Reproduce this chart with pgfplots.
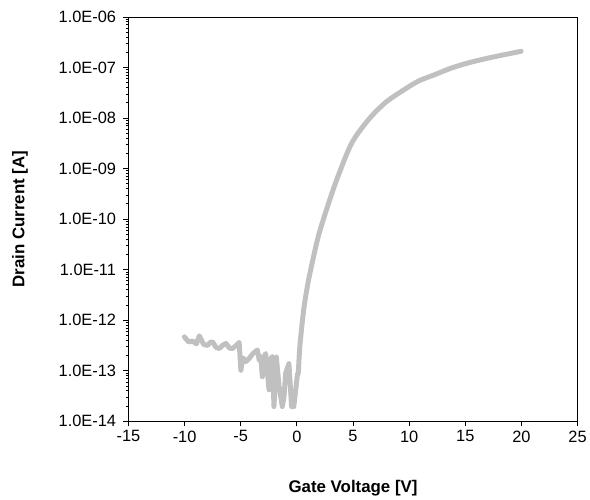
\documentclass[border=0pt]{standalone}
\usepackage{pgfplots}
\pgfplotsset{compat=1.18}
\usepackage{fontspec}
\setmainfont{Liberation Sans}
\definecolor{curvegray}{RGB}{192,192,192}
\begin{document}
\begin{tikzpicture}
\begin{axis}[
  scale only axis,
  width=451bp, height=406bp,
  ymode=log,
  xmin=-15, xmax=25,
  ymin=1e-14, ymax=1e-6,
  xtick={-15,-10,...,25},
  ytick={1e-14,1e-13,1e-12,1e-11,1e-10,1e-9,1e-8,1e-7,1e-6},
  yticklabels={1.0E-14,1.0E-13,1.0E-12,1.0E-11,1.0E-10,1.0E-09,1.0E-08,1.0E-07,1.0E-06},
  minor ytick={},
  xtick pos=bottom, ytick pos=left,
  tick align=outside,
  major tick length=5bp,
  tick style={black, line width=0.8pt},
  axis line style={line width=0.8pt},
  /pgf/number format/assume math mode=true,
  ticklabel style={font=\fontsize{16.5}{19}\selectfont},
  yticklabel style={xshift=-4bp},
  xticklabel style={yshift=-1bp},
  xlabel={Gate Voltage [V]},
  ylabel={Drain Current [A]},
  label style={font=\fontsize{17}{20}\selectfont\bfseries},
  xlabel style={at={(axis description cs:0.5,-0.165)}, anchor=center},
  ylabel style={at={(axis description cs:-0.2417,0.5)}, anchor=center},
]
\addplot[curvegray, line width=5pt, line join=round, line cap=round] coordinates {
  (-10.02,4.68e-13) (-9.65,3.72e-13) (-9.28,3.85e-13) (-8.95,3.40e-13) (-8.69,4.90e-13)
  (-8.30,3.30e-13) (-7.95,3.16e-13) (-7.75,3.60e-13) (-7.51,3.72e-13) (-7.20,2.90e-13)
  (-6.91,2.75e-13) (-6.60,3.20e-13) (-6.32,3.47e-13) (-6.00,2.80e-13) (-5.73,2.75e-13)
  (-5.45,3.10e-13) (-5.14,3.63e-13) (-4.99,1.02e-13) (-4.80,1.80e-13) (-4.55,1.51e-13)
  (-4.26,1.74e-13) (-3.90,2.20e-13) (-3.52,2.57e-13) (-3.35,1.60e-13) (-3.22,1.91e-13)
  (-3.08,7.6e-14) (-2.92,1.90e-13) (-2.78,2.19e-13) (-2.62,9.0e-14) (-2.48,4.2e-14)
  (-2.34,1.70e-13) (-2.19,1.91e-13) (-2.04,1.95e-14) (-1.93,6.0e-14) (-1.83,1.86e-13)
  (-1.60,5.2e-14) (-1.30,1.95e-14) (-1.15,3.0e-14) (-1.00,8.9e-14) (-0.71,1.38e-13)
  (-0.47,1.95e-14) (-0.27,1.95e-14) (0.05,8.5e-14)
};
\addplot[curvegray, line width=5pt, line join=round, line cap=round, smooth] coordinates {
  (0.05,8.5e-14) (0.12,8.9e-14) (0.22,2.2e-13) (0.33,4.37e-13) (0.62,1.70e-12)
  (1.00,5.62e-12) (1.51,1.91e-11) (2.01,5.50e-11) (2.95,2.5e-10) (3.72,7.6e-10)
  (4.90,3.24e-9) (6.38,9.3e-9) (7.86,2.0e-8) (9.34,3.39e-8) (10.82,5.37e-8)
  (12.30,7.24e-8) (13.77,9.77e-8) (15.25,1.23e-7) (16.73,1.48e-7) (18.20,1.74e-7)
  (19.97,2.09e-7)
};
\end{axis}
\path ([xshift=-129bp,yshift=-79bp]current axis.south west)
  rectangle ([xshift=10bp,yshift=17bp]current axis.north east);
\end{tikzpicture}
\end{document}
